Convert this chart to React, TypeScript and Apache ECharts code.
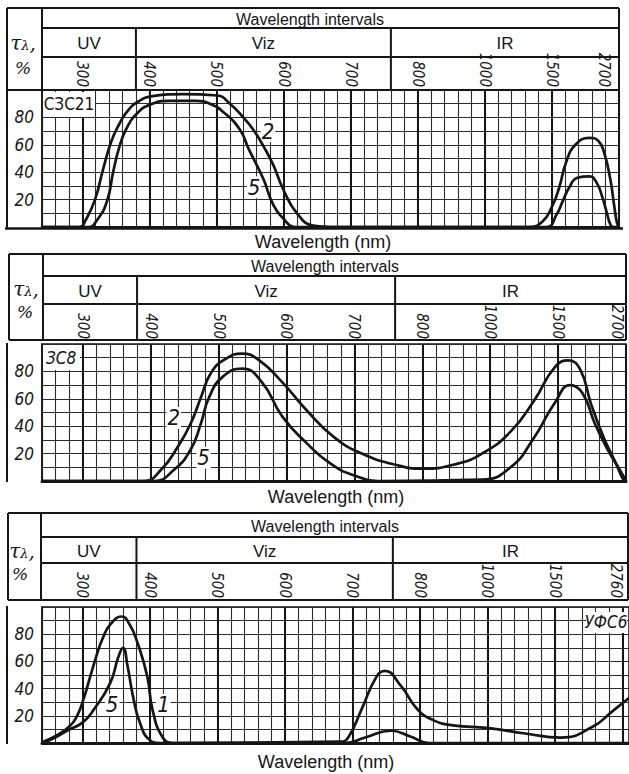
import React, { useEffect, useRef } from 'react';
import * as echarts from 'echarts';

// ---------------- data ----------------
// wavelength ticks of the (piecewise) wavelength scale, nm
const tickNm = [300, 400, 500, 600, 700, 800, 1000, 1500, 2700];
const tickLabelsA = ['300', '400', '500', '600', '700', '800', '1000', '1500', '2700'];
const tickLabelsC = ['300', '400', '500', '600', '700', '800', '1000', '1500', '2760'];
const bandNames = ['UV', 'Viz', 'IR'];
const bandEdgesNm = [380, 760];
const yTickValues = [20, 40, 60, 80];
const filterNames = ['СЗС21', 'ЗС8', 'УФС6'];
const startNm = [240, 240, 240];
const endNm = [2700, 2700, 2820];

// Panel 1 – СЗС21, [wavelength nm, transmittance %]
const p1Curve2: [number, number][] = [
  [240, 0], [296, 0], [305, 5], [319, 20], [331, 42], [343, 62], [355, 75], [368, 85], [385, 92],
  [405, 95.5], [450, 97], [501, 96], [520, 90], [540, 80], [555, 71], [570, 59], [585, 45], [600, 27],
  [620, 10], [644, 1], [670, 0], [1000, 0], [1330, 0], [1430, 4], [1504, 15], [1632, 29], [1752, 47],
  [1920, 60], [2172, 65], [2328, 63], [2436, 54], [2544, 35], [2616, 15], [2664, 3], [2700, 0],
];
const p1Curve5: [number, number][] = [
  [240, 0], [309, 0], [322, 5], [337, 19], [346, 40], [355, 58], [366, 72], [382, 83], [402, 89.5],
  [430, 92], [470, 92], [490, 90], [510, 84], [535, 71], [548, 57], [570, 35], [583, 18], [598, 7],
  [620, 0], [1000, 0], [1457, 0], [1596, 10], [1684, 18], [1812, 29], [1956, 36], [2172, 37],
  [2304, 32], [2400, 22], [2472, 12], [2556, 1], [2616, 0], [2700, 0],
];
const p1Label2: [string, number, number] = ['2', 577, 70];
const p1Label5: [string, number, number] = ['5', 556, 29];

// Panel 2 – ЗС8
const p2Curve2: [number, number][] = [
  [240, 0], [390, 0], [415, 8], [440, 25], [459, 42], [474, 61], [489, 79], [510, 89], [535, 93],
  [560, 88], [594, 72], [629, 52], [670, 32], [711, 20], [759, 12], [800, 9], [894, 12], [976, 20],
  [1150, 36], [1325, 59], [1475, 83], [1680, 88], [1896, 81], [2076, 57], [2304, 32], [2520, 13],
  [2652, 1], [2700, 0],
];
const p2Curve5: [number, number][] = [
  [240, 0], [405, 0], [434, 8], [459, 23], [474, 42], [486, 61], [506, 76], [535, 82], [564, 72],
  [594, 47], [629, 28], [664, 13], [700, 4], [741, 0], [976, 1], [1150, 10], [1325, 32], [1475, 57],
  [1716, 70], [1932, 64], [2148, 42], [2376, 23], [2592, 8], [2700, 0],
];
const p2Label2: [string, number, number] = ['2', 434, 46];
const p2Label5: [string, number, number] = ['5', 478, 17];

// Panel 3 – УФС6
const p3Curve1: [number, number][] = [
  [242, 1], [263, 6], [280, 12], [292, 20], [302, 33], [311, 48], [320, 63], [330, 77], [341, 87],
  [358, 93], [370, 87], [382, 73], [396, 49], [404, 24], [419, 4], [434, 0], [683, 1], [695, 5],
  [713, 24], [736, 49], [748, 53], [772, 42], [796, 25], [838, 17], [898, 13], [1010, 11],
  [1280, 7], [1608, 4], [2172, 12], [2544, 24], [2820, 33],
];
const p3Curve5: [number, number][] = [
  [242, 0], [263, 5], [277, 9], [300, 15], [316, 24], [341, 44], [353, 63], [360, 70], [367, 56],
  [375, 34], [385, 15], [400, 2], [415, 0], [689, 0], [719, 4], [757, 9], [785, 5], [828, 0], [2820, 0],
];
const p3Label5: [string, number, number] = ['5', 344, 28];
const p3Label1: [string, number, number] = ['1', 420, 28];

// ---------------- scale helper ----------------
function toU(nm: number): number {
  const n = tickNm.length;
  if (nm <= tickNm[0]) return (nm - tickNm[0]) / (tickNm[1] - tickNm[0]);
  for (let i = 0; i < n - 1; i++) {
    if (nm <= tickNm[i + 1]) return i + (nm - tickNm[i]) / (tickNm[i + 1] - tickNm[i]);
  }
  return n - 1 + (nm - tickNm[n - 1]) / (tickNm[n - 1] - tickNm[n - 2]);
}

// ---------------- styles / layout ----------------
const INK = '#151515';
const GRIDC = '#2a2a2a';
const FONT_SANS = '"Liberation Sans", Arial, sans-serif';
const FONT_NARROW = '"Liberation Sans Narrow", "DejaVu Sans Condensed", "Liberation Sans", sans-serif';
const FONT_SERIF = '"DejaVu Serif", "Liberation Serif", serif';

const layouts = [
  { outerL: 7, colR: 42, right: 619, top: 8, r1: 28, r2: 57, hb: 90, plotL: 42, plotTop: 90, plotBottom: 227,
    plotOuterL: 7, labelMargin: 3, edgePad: 30, titleX: 310, xNameX: 323, xNameY: 242, tau: [23, 43], pct: [23, 68],
    fullBottom: true, nameRect: [43, 92, 52, 25], nameAt: [69, 104], nameItalic: false, ticks: tickLabelsA },
  { outerL: 9, colR: 43, right: 626, top: 254, r1: 276, r2: 304, hb: 340, plotL: 42, plotTop: 344, plotBottom: 481,
    plotOuterL: 7, labelMargin: 5, edgePad: 18, titleX: 325, xNameX: 336, xNameY: 497, tau: [26, 289], pct: [25, 312],
    fullBottom: false, nameRect: [43, 345, 37, 25], nameAt: [61, 358], nameItalic: true, ticks: tickLabelsA },
  { outerL: 8, colR: 41, right: 629, top: 513, r1: 537, r2: 563, hb: 600, plotL: 42, plotTop: 607, plotBottom: 743,
    plotOuterL: 7, labelMargin: 9, edgePad: 13, titleX: 325, xNameX: 326, xNameY: 762, tau: [22, 551], pct: [20, 574],
    fullBottom: false, nameRect: [586, 612, 41, 21], nameAt: [606, 622], nameItalic: true, ticks: tickLabelsC },
];

const panelCurves = [
  [{ data: p1Curve2, label: p1Label2 }, { data: p1Curve5, label: p1Label5 }],
  [{ data: p2Curve2, label: p2Label2 }, { data: p2Curve5, label: p2Label5 }],
  [{ data: p3Curve1, label: p3Label1 }, { data: p3Curve5, label: p3Label5 }],
];

function buildOption() {
  const grid: any[] = [];
  const xAxis: any[] = [];
  const yAxis: any[] = [];
  const series: any[] = [];
  const graphic: any[] = [];

  layouts.forEach((L, i) => {
    const xMin = toU(startNm[i]);
    const xMax = toU(endNm[i]);
    const width = L.right - L.plotL;
    const px = (u: number) => L.plotL + ((u - xMin) / (xMax - xMin)) * width;

    grid.push({
      left: L.plotL, top: L.plotTop, width, height: L.plotBottom - L.plotTop,
      show: true, borderColor: INK, borderWidth: 1.5, backgroundColor: 'transparent',
      containLabel: false, outerBoundsMode: 'none',
    });

    // bottom axis: minor vertical grid + heavy baseline
    xAxis.push({
      type: 'value', gridIndex: i, position: 'bottom', min: xMin, max: xMax, interval: 0.2,
      axisLine: { show: true, onZero: false, lineStyle: { color: INK, width: 3 } },
      axisTick: { show: false }, axisLabel: { show: false },
      splitLine: { show: true, lineStyle: { color: GRIDC, width: 1.1 } },
    });
    // top axis: rotated wavelength labels inside the header table
    const labels = L.ticks;
    const lastIdx = labels.length - 1;
    xAxis.push({
      type: 'value', gridIndex: i, position: 'top', min: xMin, max: xMax, interval: 0.2,
      axisLine: { show: false, onZero: false }, axisTick: { show: false }, splitLine: { show: false },
      axisLabel: {
        show: true, rotate: 90, margin: L.labelMargin, showMinLabel: true, showMaxLabel: true,
        color: INK, fontSize: 15, fontStyle: 'italic', fontFamily: FONT_NARROW,
        formatter: (v: number) => {
          const k = Math.round(v);
          if (Math.abs(v - k) > 1e-6 || k < 0 || k > lastIdx) return '';
          return k === lastIdx ? `{e|${labels[k]}}` : labels[k];
        },
        rich: {
          e: { padding: [L.edgePad, 0, 0, 0], color: INK, fontSize: 15, fontStyle: 'italic', fontFamily: FONT_NARROW },
        },
      },
    });
    yAxis.push({
      type: 'value', gridIndex: i, min: 0, max: 100, interval: 10,
      axisLine: { show: true, onZero: false, lineStyle: { color: INK, width: 1.5 } },
      axisTick: { show: false },
      splitLine: { show: true, lineStyle: { color: GRIDC, width: 1.1 } },
      axisLabel: {
        margin: 8, color: INK, fontSize: 17, fontStyle: 'italic', fontFamily: FONT_NARROW, padding: [10, 0, 0, 0],
        formatter: (v: number) => (yTickValues.indexOf(Math.round(v)) >= 0 && Math.abs(v - Math.round(v)) < 1e-6 ? String(Math.round(v)) : ''),
      },
    });

    panelCurves[i].forEach((c, j) => {
      const [txt, lnm, lv] = c.label;
      const s: any = {
        type: 'line', name: `${filterNames[i]} – ${txt}`, xAxisIndex: 2 * i, yAxisIndex: i,
        data: c.data.map(([nm, v]) => [toU(nm), v]),
        smooth: 0.5, symbol: 'none', clip: true, z: 5,
        lineStyle: { color: INK, width: 2.7 },
        markPoint: {
          symbol: 'rect', symbolSize: 1, silent: true, itemStyle: { color: 'rgba(0,0,0,0)' },
          data: [{ coord: [toU(lnm), lv], name: txt }],
          label: {
            show: true, position: 'inside', formatter: txt, color: INK, fontSize: 22, fontStyle: 'italic',
            fontFamily: FONT_NARROW, backgroundColor: '#fff', padding: [0, 1],
          },
        },
      };
      if (j === 0) {
        s.markLine = {
          silent: true, symbol: ['none', 'none'], label: { show: false },
          lineStyle: { color: INK, width: 2, type: 'solid' },
          data: tickNm.map((nm) => ({ xAxis: toU(nm) })),
        };
      }
      series.push(s);
    });

    // ----- header table -----
    const line = (x1: number, y1: number, x2: number, y2: number, w = 2) => ({
      type: 'line', z: 100, silent: true, shape: { x1, y1, x2, y2 }, style: { stroke: INK, lineWidth: w },
    });
    const rightX = Math.min(L.right, 628);
    graphic.push(line(L.outerL, L.top, rightX, L.top));
    graphic.push(line(L.colR, L.r1, rightX, L.r1));
    graphic.push(line(L.colR, L.r2, rightX, L.r2));
    graphic.push(line(L.outerL, L.hb, rightX, L.hb));
    graphic.push(line(L.outerL, L.top, L.outerL, L.hb));
    graphic.push(line(L.colR, L.top, L.colR, L.hb));
    graphic.push(line(rightX, L.top, rightX, L.hb));
    const edgesX = bandEdgesNm.map((nm) => px(toU(nm)));
    edgesX.forEach((x) => graphic.push(line(x, L.r1, x, L.hb)));
    graphic.push(line(L.plotOuterL, i === 0 ? L.hb : L.plotTop - 1, L.plotOuterL, L.plotBottom + 1));
    if (L.fullBottom) graphic.push(line(5, L.plotBottom + 1.5, L.right + 4, L.plotBottom + 1.5, 2.5));

    const text = (x: number, y: number, t: string, size: number, extra: any = {}) => ({
      type: 'text', z: 100, silent: true, x, y,
      style: { text: t, fill: INK, fontSize: size, fontFamily: FONT_SANS, align: 'center', verticalAlign: 'middle', ...extra },
    });
    graphic.push(text(L.titleX, (L.top + L.r1) / 2 + 1, 'Wavelength intervals', 16));
    const cellBounds = [L.colR, ...edgesX, rightX];
    bandNames.forEach((b, k) => {
      graphic.push(text((cellBounds[k] + cellBounds[k + 1]) / 2, (L.r1 + L.r2) / 2 + 1, b, 17));
    });
    graphic.push(text(L.xNameX, L.xNameY, 'Wavelength (nm)', 18));
    graphic.push({
      type: 'text', z: 100, silent: true, x: L.tau[0], y: L.tau[1],
      style: {
        text: '{t|τ}{s|λ}{t|,}', align: 'center', verticalAlign: 'middle',
        rich: {
          t: { fill: INK, fontSize: 20, fontStyle: 'italic', fontFamily: FONT_SERIF },
          s: { fill: INK, fontSize: 13, fontStyle: 'italic', fontFamily: FONT_SERIF, padding: [5, 0, 0, 0] },
        },
      },
    });
    graphic.push(text(L.pct[0], L.pct[1], '%', 17, { fontFamily: FONT_SERIF, fontStyle: 'italic' }));

    // filter name tag inside the plot
    const [rx, ry, rw, rh] = L.nameRect;
    graphic.push({ type: 'rect', z: 50, silent: true, shape: { x: rx, y: ry, width: rw, height: rh }, style: { fill: '#fff' } });
    graphic.push(text(L.nameAt[0], L.nameAt[1], filterNames[i], 17, {
      fontFamily: FONT_NARROW, fontStyle: L.nameItalic ? 'italic' : 'normal',
    }));
  });

  return {
    animation: false,
    backgroundColor: '#ffffff',
    grid, xAxis, yAxis, series, graphic,
  };
}

export default function App() {
  const ref = useRef<HTMLDivElement>(null);
  useEffect(() => {
    if (!ref.current) return;
    const chart = echarts.init(ref.current, undefined, { renderer: 'svg' });
    chart.setOption(buildOption() as any);
    return () => chart.dispose();
  }, []);
  return (
    <div
      ref={ref}
      style={{ position: 'fixed', left: 0, top: 0, width: 629, height: 774, background: '#fff' }}
    />
  );
}
